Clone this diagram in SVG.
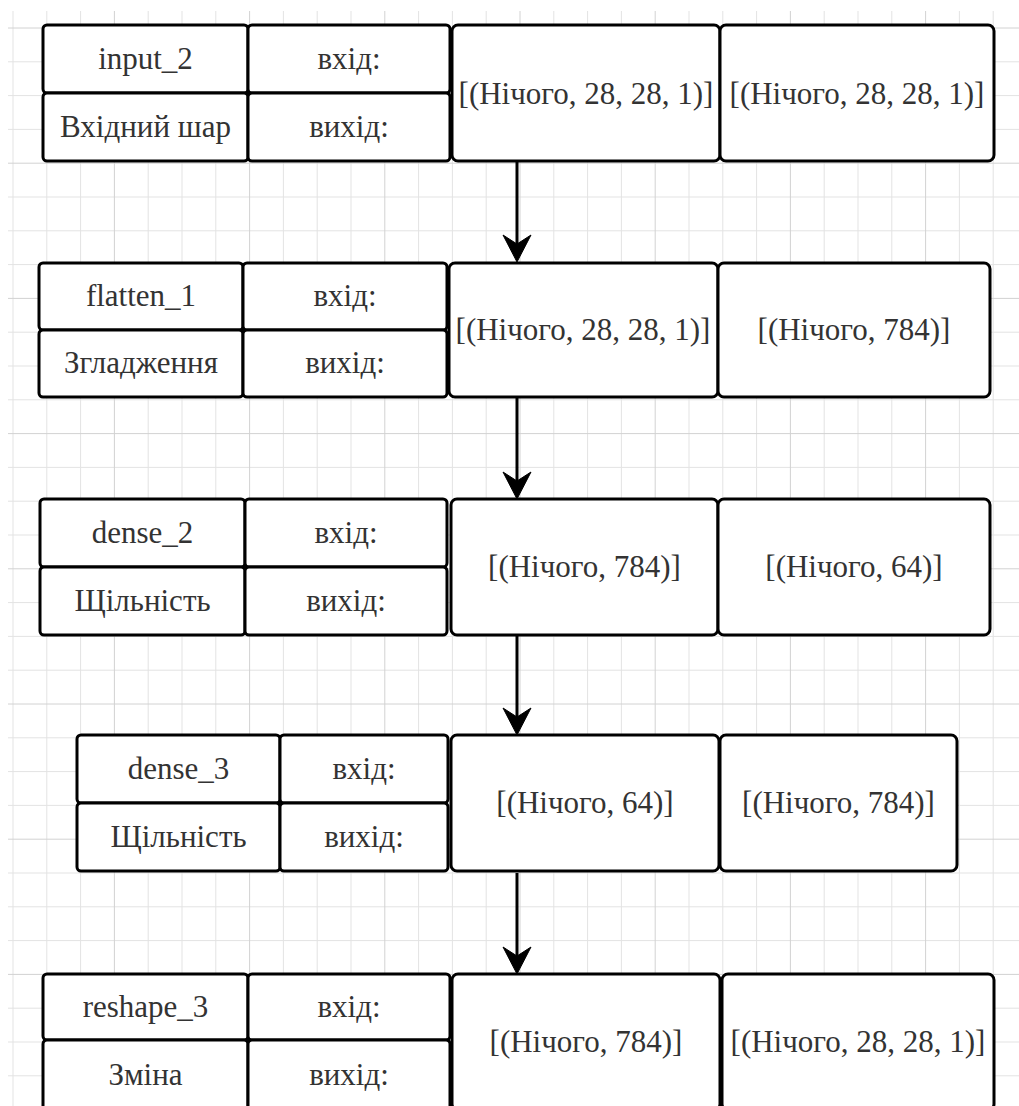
<svg xmlns="http://www.w3.org/2000/svg" width="1019" height="1106" viewBox="0 0 1019 1106">
<style>
.cell{fill:#ffffff;stroke:#000000;stroke-width:3}
.t{font-family:"Liberation Serif","Times New Roman",serif;font-size:31px;fill:#333333;text-anchor:middle}
.minor{stroke:#e3e3e3;stroke-width:1;fill:none}
.major{stroke:#d2d2d2;stroke-width:1;fill:none}
.edge{stroke:#000000;stroke-width:3;fill:none}
</style>
<defs>
<marker id="arrow" markerUnits="userSpaceOnUse" markerWidth="28" markerHeight="28" viewBox="0 0 27 28" refX="9" refY="14" orient="auto" overflow="visible">
<path d="M0,0 L27,14 L0,28 L9,14 Z" fill="#000000" stroke="#000000" stroke-width="1" stroke-linejoin="miter"/>
</marker>
</defs>
<rect x="0" y="0" width="1019" height="1106" fill="#ffffff"/>
<g id="grid">
<path class="minor" d="M13,11V1106M46.8,11V1106M80.6,11V1106M148.2,11V1106M182,11V1106M215.8,11V1106M283.4,11V1106M317.2,11V1106M351,11V1106M418.6,11V1106M452.4,11V1106M486.2,11V1106M553.8,11V1106M587.6,11V1106M621.4,11V1106M689,11V1106M722.8,11V1106M756.6,11V1106M824.2,11V1106M858,11V1106M891.8,11V1106M959.4,11V1106M993.2,11V1106
M8,61.8H1019M8,95.6H1019M8,129.4H1019M8,197H1019M8,230.8H1019M8,264.6H1019M8,332.2H1019M8,366H1019M8,399.8H1019M8,467.4H1019M8,501.2H1019M8,535H1019M8,602.6H1019M8,636.4H1019M8,670.2H1019M8,737.8H1019M8,771.6H1019M8,805.4H1019M8,873H1019M8,906.8H1019M8,940.6H1019M8,1008.2H1019M8,1042H1019M8,1075.8H1019"/>
<path class="major" d="M114.4,11V1106M249.6,11V1106M384.8,11V1106M520,11V1106M655.2,11V1106M790.4,11V1106M925.6,11V1106
M8,28H1019M8,163.2H1019M8,298.4H1019M8,433.6H1019M8,568.8H1019M8,704H1019M8,839.2H1019M8,974.4H1019"/>
</g>
<g id="connectors">
<line class="edge" x1="517" y1="161" x2="517" y2="244" marker-end="url(#arrow)"/>
<line class="edge" x1="517" y1="398" x2="517" y2="481" marker-end="url(#arrow)"/>
<line class="edge" x1="517" y1="636" x2="517" y2="717" marker-end="url(#arrow)"/>
<line class="edge" x1="517" y1="873" x2="517" y2="956" marker-end="url(#arrow)"/>
</g>
<g id="input_2">
<rect class="cell" x="43" y="25" width="205" height="68" rx="4"/>
<rect class="cell" x="43" y="93" width="205" height="68" rx="4"/>
<rect class="cell" x="248" y="25" width="202" height="68" rx="4"/>
<rect class="cell" x="248" y="93" width="202" height="68" rx="4"/>
<rect class="cell" x="452" y="25" width="268" height="136" rx="6"/>
<rect class="cell" x="720" y="25" width="274" height="136" rx="6"/>
<text class="t" x="145.5" y="69">input_2</text>
<text class="t" x="145.5" y="137">Вхідний шар</text>
<text class="t" x="349" y="69">вхід:</text>
<text class="t" x="349" y="137">вихід:</text>
<text class="t" x="586" y="104">[(Нічого, 28, 28, 1)]</text>
<text class="t" x="857" y="104">[(Нічого, 28, 28, 1)]</text>
</g>
<g id="flatten_1">
<rect class="cell" x="39" y="263" width="204" height="67" rx="4"/>
<rect class="cell" x="39" y="330" width="204" height="67" rx="4"/>
<rect class="cell" x="243" y="263" width="204" height="67" rx="4"/>
<rect class="cell" x="243" y="330" width="204" height="67" rx="4"/>
<rect class="cell" x="449" y="263" width="269" height="134" rx="6"/>
<rect class="cell" x="718" y="263" width="272" height="134" rx="6"/>
<text class="t" x="141" y="306">flatten_1</text>
<text class="t" x="141" y="373">Згладження</text>
<text class="t" x="345" y="306">вхід:</text>
<text class="t" x="345" y="373">вихід:</text>
<text class="t" x="583" y="340">[(Нічого, 28, 28, 1)]</text>
<text class="t" x="854" y="340">[(Нічого, 784)]</text>
</g>
<g id="dense_2">
<rect class="cell" x="40" y="499" width="205" height="68" rx="4"/>
<rect class="cell" x="40" y="567" width="205" height="68" rx="4"/>
<rect class="cell" x="245" y="499" width="202" height="68" rx="4"/>
<rect class="cell" x="245" y="567" width="202" height="68" rx="4"/>
<rect class="cell" x="451" y="499" width="267" height="136" rx="6"/>
<rect class="cell" x="718" y="499" width="272" height="136" rx="6"/>
<text class="t" x="142.5" y="543">dense_2</text>
<text class="t" x="142.5" y="611">Щільність</text>
<text class="t" x="346" y="543">вхід:</text>
<text class="t" x="346" y="611">вихід:</text>
<text class="t" x="584.5" y="577">[(Нічого, 784)]</text>
<text class="t" x="854" y="577">[(Нічого, 64)]</text>
</g>
<g id="dense_3">
<rect class="cell" x="77" y="735" width="203" height="68" rx="4"/>
<rect class="cell" x="77" y="803" width="203" height="68" rx="4"/>
<rect class="cell" x="280" y="735" width="168" height="68" rx="4"/>
<rect class="cell" x="280" y="803" width="168" height="68" rx="4"/>
<rect class="cell" x="451" y="735" width="268" height="136" rx="6"/>
<rect class="cell" x="720" y="735" width="237" height="136" rx="6"/>
<text class="t" x="178.5" y="779">dense_3</text>
<text class="t" x="178.5" y="847">Щільність</text>
<text class="t" x="364" y="779">вхід:</text>
<text class="t" x="364" y="847">вихід:</text>
<text class="t" x="585" y="813">[(Нічого, 64)]</text>
<text class="t" x="838.5" y="813">[(Нічого, 784)]</text>
</g>
<g id="reshape_3">
<rect class="cell" x="43" y="974" width="205" height="66" rx="4"/>
<rect class="cell" x="43" y="1040" width="205" height="70" rx="4"/>
<rect class="cell" x="248" y="974" width="202" height="66" rx="4"/>
<rect class="cell" x="248" y="1040" width="202" height="70" rx="4"/>
<rect class="cell" x="452" y="974" width="268" height="136" rx="6"/>
<rect class="cell" x="722" y="974" width="272" height="136" rx="6"/>
<text class="t" x="145.5" y="1017">reshape_3</text>
<text class="t" x="145.5" y="1085">Зміна</text>
<text class="t" x="349" y="1017">вхід:</text>
<text class="t" x="349" y="1085">вихід:</text>
<text class="t" x="586" y="1052">[(Нічого, 784)]</text>
<text class="t" x="858" y="1052">[(Нічого, 28, 28, 1)]</text>
</g>
</svg>
